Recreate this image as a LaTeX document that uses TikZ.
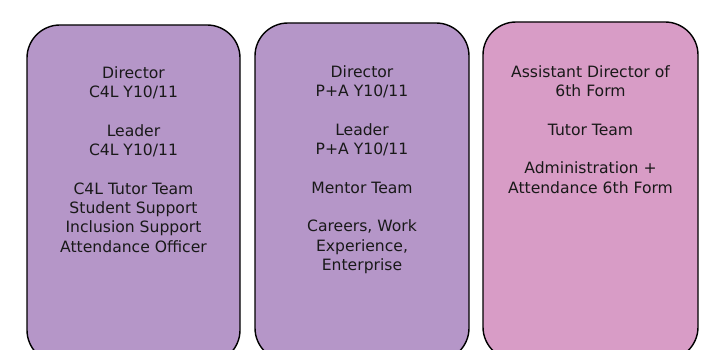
\documentclass[tikz,border=0pt]{standalone}
\usepackage{fontspec}
\setmainfont{DejaVu Sans}
\usepackage{xcolor}
\usetikzlibrary{positioning}

\definecolor{teampurple}{HTML}{B596C8}
\definecolor{formpink}{HTML}{D89CC6}

\tikzset{
    teambox/.style={draw=black, line width=1.4pt, rounded corners=33pt,
        minimum width=213pt, minimum height=338pt, inner sep=0pt},
    teamtext/.style={anchor=north, align=center, inner sep=0pt,
        text=black!90, font=\fontsize{15.6}{19.3}\selectfont}
}

\begin{document}
\begin{tikzpicture}[x=1pt, y=-1pt]
    \clip (0, 0) rectangle (719, 350);
    \fill[white] (0, 0) rectangle (719, 350);

    % C4L Y10/11
    \node[teambox, fill=teampurple] (c4l) at (133.5, 194) {};
    \node[teamtext, below=42pt of c4l.north] (c4ltext)
        {Director\\C4L Y10/11\\[19.3pt]Leader\\C4L Y10/11\\[19.3pt]C4L Tutor Team\\Student Support\\Inclusion Support\\Attendance Officer};

    % P+A Y10/11
    \node[teambox, fill=teampurple, minimum width=214pt] (pa) at (362, 192) {};
    \node[teamtext, below=43pt of pa.north] (patext)
        {Director\\P+A Y10/11\\[19.3pt]Leader\\P+A Y10/11\\[19.3pt]Mentor Team\\[19.3pt]Careers, Work\\Experience,\\Enterprise};

    % 6th Form
    \node[teambox, fill=formpink, minimum width=215pt] (sixth) at (590.5, 191) {};
    \node[teamtext, below=44pt of sixth.north] (sixthtext)
        {Assistant Director of\\6th Form\\[19.3pt]Tutor Team\\[19.3pt]Administration +\\Attendance 6th Form};
\end{tikzpicture}
\end{document}
